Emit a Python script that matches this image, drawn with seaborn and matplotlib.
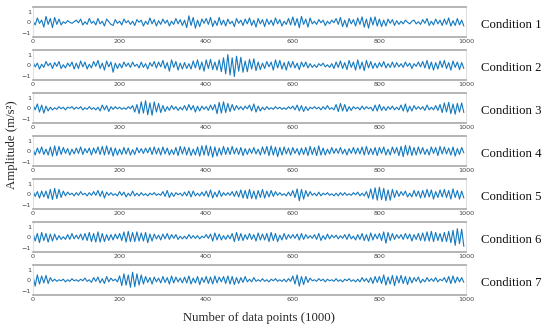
import numpy as np
import seaborn as sns
import matplotlib.pyplot as plt

# vibration signals, one value every 5 data points
cond1 = [0.1,-0.25,0.4,-0.1,0.2,-0.45,0.55,-0.2,0.35,-0.5,
         0.45,-0.2,0.3,-0.25,0.05,-0.1,0.15,0.0,-0.1,0.05,
         0.2,-0.05,0.3,-0.25,0.05,-0.2,0.35,-0.1,0.1,-0.25,
         0.35,-0.15,0.1,-0.35,0.3,0.05,-0.2,-0.3,0.25,-0.1,
         0.1,-0.25,0.3,-0.05,0.15,-0.2,0.1,-0.3,0.25,0.0,
         0.2,-0.35,0.1,-0.2,0.4,-0.15,0.25,-0.35,0.15,-0.2,
         0.3,-0.1,0.2,-0.35,0.1,-0.2,0.35,-0.15,0.25,-0.3,
         0.2,-0.5,0.6,-0.3,0.45,-0.55,0.2,-0.4,0.3,-0.1,
         0.35,-0.2,0.45,-0.4,0.15,-0.3,0.45,-0.25,0.2,-0.35,
         0.3,-0.15,0.1,-0.4,0.35,-0.1,0.2,-0.3,0.3,-0.15,
         0.4,-0.3,0.2,-0.45,0.35,-0.15,0.25,-0.4,0.3,-0.2,
         0.2,-0.3,0.4,-0.15,0.25,-0.35,0.1,-0.2,0.35,-0.25,
         0.5,-0.3,0.35,-0.5,0.55,-0.2,0.3,-0.45,0.4,-0.15,
         0.1,-0.2,0.25,-0.05,0.2,-0.3,0.1,-0.15,0.2,-0.05,
         0.35,-0.2,0.45,-0.4,0.2,-0.45,0.35,-0.15,0.25,-0.35,
         0.4,-0.2,0.5,-0.45,0.3,-0.55,0.45,-0.25,0.5,-0.35,
         0.3,-0.4,0.2,-0.35,0.3,-0.1,0.25,-0.3,0.15,-0.2,
         0.1,-0.15,0.2,0.0,-0.15,0.1,0.2,-0.15,0.05,-0.2,
         0.25,-0.1,0.35,-0.3,0.1,-0.25,0.3,-0.15,0.2,-0.3,
         0.3,-0.2,0.4,-0.35,0.15,-0.3,0.35,-0.25,0.2,-0.35]

cond2 = [0.3,-0.15,0.2,-0.35,0.1,-0.2,0.35,-0.05,0.2,-0.3,
         0.25,-0.1,0.35,-0.3,0.05,-0.25,0.2,-0.1,0.3,-0.35,
         0.2,-0.3,0.4,-0.15,0.3,-0.35,0.1,-0.25,0.35,-0.1,
         0.45,-0.3,0.2,-0.45,0.4,-0.15,0.3,-0.65,0.2,-0.3,
         0.15,-0.25,0.3,-0.1,0.2,-0.2,0.3,-0.1,0.1,-0.25,
         0.3,-0.2,0.15,-0.35,0.25,-0.1,0.35,-0.25,0.3,-0.15,
         0.45,-0.3,0.25,-0.55,0.5,-0.2,0.35,-0.45,0.2,-0.35,
         0.25,-0.3,0.15,-0.35,0.4,-0.25,0.5,-0.4,0.3,-0.55,
         0.5,-0.3,0.55,-0.4,0.3,-0.45,0.5,-0.6,0.7,-0.8,
         1.0,-0.9,0.7,-1.05,0.85,-0.55,0.75,-0.65,0.4,-0.6,
         0.55,-0.35,0.6,-0.5,0.3,-0.4,0.2,-0.3,0.35,-0.15,
         0.3,-0.45,0.5,-0.25,0.45,-0.35,0.25,-0.45,0.35,-0.2,
         0.35,-0.25,0.2,-0.4,0.3,-0.15,0.3,-0.25,0.15,-0.2,
         0.05,-0.2,0.15,-0.05,0.2,-0.15,0.05,-0.2,0.15,-0.3,
         0.3,-0.2,0.4,-0.3,0.25,-0.4,0.45,-0.2,0.3,-0.45,
         0.5,-0.35,0.3,-0.5,0.45,-0.25,0.35,-0.3,0.2,-0.25,
         0.25,-0.15,0.35,-0.25,0.15,-0.2,0.3,-0.2,0.25,-0.15,
         0.15,-0.2,0.3,-0.1,0.2,-0.3,0.15,-0.1,0.3,-0.15,
         0.35,-0.25,0.45,-0.35,0.3,-0.45,0.25,-0.35,0.4,-0.2,
         0.45,-0.3,0.25,-0.45,0.4,-0.2,0.3,-0.4,0.25,-0.3]

cond3 = [0.35,-0.15,0.4,-0.35,0.3,-0.45,0.2,-0.25,0.1,-0.15,
         0.05,-0.1,0.15,-0.05,0.1,-0.15,0.1,0.0,0.15,-0.1,
         0.1,-0.05,0.15,-0.15,0.05,-0.1,0.15,-0.1,0.05,-0.15,
         0.1,-0.25,0.3,-0.15,0.25,-0.3,0.15,-0.1,0.15,-0.05,
         0.1,-0.1,0.05,-0.1,0.15,-0.05,0.25,-0.35,0.35,-0.5,
         0.6,-0.45,0.7,-0.6,0.5,-0.65,0.6,-0.35,0.45,-0.4,
         0.25,-0.3,0.15,-0.2,0.25,-0.1,0.15,-0.2,0.1,-0.15,
         0.25,-0.2,0.35,-0.15,0.25,-0.35,0.2,-0.25,0.2,-0.1,
         0.15,-0.2,0.3,-0.15,0.35,-0.5,0.55,-0.45,0.6,-0.4,
         0.45,-0.3,0.35,-0.2,0.25,-0.1,0.15,-0.15,0.2,-0.05,
         0.3,-0.25,0.4,-0.35,0.2,-0.25,0.1,-0.15,0.15,-0.1,
         0.05,-0.1,0.15,-0.05,0.1,-0.1,0.05,-0.1,0.15,-0.05,
         0.2,-0.15,0.3,-0.25,0.25,-0.3,0.15,-0.2,0.1,-0.05,
         0.15,-0.05,0.1,-0.15,0.15,-0.1,0.25,-0.1,0.05,-0.15,
         0.35,-0.3,0.45,-0.25,0.35,-0.3,0.15,-0.2,0.15,-0.05,
         0.1,-0.15,0.2,-0.1,0.15,-0.05,0.1,-0.25,0.3,-0.25,
         0.35,-0.2,0.15,-0.2,0.15,-0.1,0.2,-0.15,0.1,-0.15,
         0.3,-0.25,0.4,-0.35,0.2,-0.25,0.25,-0.1,0.15,-0.1,
         0.15,-0.2,0.3,-0.15,0.1,-0.15,0.25,-0.2,0.35,-0.4,
         0.5,-0.35,0.55,-0.5,0.4,-0.55,0.45,-0.35,0.5,-0.4]

cond4 = [0.25,-0.35,0.3,-0.2,0.4,-0.3,0.2,-0.35,0.4,-0.45,
         0.5,-0.4,0.45,-0.3,0.35,-0.2,0.25,-0.35,0.2,-0.25,
         0.3,-0.2,0.4,-0.3,0.25,-0.15,0.3,-0.35,0.3,-0.2,
         0.4,-0.3,0.45,-0.35,0.5,-0.3,0.35,-0.45,0.3,-0.35,
         0.2,-0.3,0.35,-0.25,0.3,-0.35,0.15,-0.3,0.35,-0.15,
         0.25,-0.2,0.3,-0.15,0.35,-0.3,0.4,-0.25,0.3,-0.35,
         0.4,-0.25,0.3,-0.35,0.15,-0.3,0.35,-0.4,0.45,-0.25,
         0.4,-0.35,0.35,-0.4,0.2,-0.35,0.4,-0.45,0.5,-0.35,
         0.55,-0.4,0.45,-0.55,0.4,-0.45,0.3,-0.35,0.45,-0.3,
         0.35,-0.3,0.45,-0.25,0.3,-0.3,0.35,-0.4,0.25,-0.3,
         0.25,-0.2,0.35,-0.25,0.2,-0.35,0.4,-0.25,0.45,-0.4,
         0.5,-0.35,0.4,-0.5,0.35,-0.35,0.4,-0.25,0.3,-0.35,
         0.35,-0.2,0.25,-0.35,0.3,-0.3,0.35,-0.4,0.45,-0.3,
         0.35,-0.4,0.5,-0.35,0.3,-0.35,0.2,-0.25,0.35,-0.2,
         0.25,-0.2,0.35,-0.25,0.2,-0.35,0.25,-0.2,0.35,-0.25,
         0.3,-0.25,0.4,-0.35,0.45,-0.3,0.25,-0.3,0.35,-0.4,
         0.35,-0.2,0.4,-0.35,0.2,-0.35,0.4,-0.2,0.35,-0.4,
         0.45,-0.5,0.55,-0.35,0.5,-0.4,0.35,-0.35,0.4,-0.25,
         0.35,-0.3,0.2,-0.35,0.4,-0.2,0.35,-0.4,0.45,-0.25,
         0.4,-0.25,0.3,-0.35,0.4,-0.45,0.25,-0.3,0.35,-0.15]

cond5 = [0.35,-0.2,0.25,-0.35,0.3,-0.25,0.3,-0.4,0.45,-0.5,
         0.55,-0.4,0.45,-0.3,0.3,-0.15,0.2,-0.05,0.1,-0.15,
         0.15,-0.1,0.25,-0.05,0.1,-0.15,0.15,-0.1,0.25,-0.1,
         0.35,-0.2,0.3,-0.35,0.2,-0.1,0.15,-0.1,0.05,-0.15,
         0.25,-0.1,0.2,-0.25,0.1,-0.15,0.3,-0.15,0.1,-0.15,
         0.15,-0.1,0.05,-0.15,0.1,-0.05,0.15,-0.1,0.05,-0.1,
         0.25,-0.2,0.35,-0.3,0.15,-0.2,0.15,-0.05,0.1,-0.15,
         0.2,-0.15,0.3,-0.25,0.3,-0.15,0.1,-0.15,0.2,-0.15,
         0.3,-0.25,0.4,-0.35,0.2,-0.25,0.35,-0.2,0.15,-0.1,
         0.15,-0.1,0.25,-0.2,0.3,-0.25,0.4,-0.35,0.35,-0.4,
         0.45,-0.4,0.3,-0.45,0.35,-0.3,0.45,-0.35,0.3,-0.25,
         0.35,-0.2,0.25,-0.1,0.15,-0.1,0.05,-0.15,0.2,-0.15,
         0.35,-0.3,0.5,-0.6,0.45,-0.45,0.35,-0.2,0.25,-0.1,
         0.1,-0.15,0.2,-0.15,0.1,-0.05,0.15,-0.1,0.05,-0.15,
         0.1,-0.15,0.15,-0.1,0.15,-0.1,0.05,-0.1,0.15,-0.05,
         0.2,-0.15,0.1,-0.15,0.25,-0.35,0.5,-0.45,0.6,-0.55,
         0.65,-0.5,0.55,-0.6,0.4,-0.55,0.45,-0.3,0.35,-0.2,
         0.25,-0.1,0.3,-0.25,0.1,-0.25,0.35,-0.2,0.3,-0.35,
         0.35,-0.3,0.45,-0.25,0.4,-0.45,0.25,-0.3,0.4,-0.25,
         0.45,-0.3,0.35,-0.45,0.5,-0.3,0.35,-0.45,0.3,-0.35]

cond6 = [0.4,-0.35,0.35,-0.5,0.45,-0.3,0.35,-0.45,0.3,-0.35,
         0.3,-0.25,0.15,-0.2,0.05,-0.2,0.25,-0.2,0.35,-0.15,
         0.2,-0.15,0.3,-0.25,0.35,-0.3,0.45,-0.4,0.35,-0.45,
         0.5,-0.45,0.35,-0.4,0.25,-0.3,0.25,-0.25,0.3,-0.15,
         0.35,-0.3,0.5,-0.45,0.55,-0.4,0.45,-0.4,0.5,-0.35,
         0.4,-0.35,0.45,-0.5,0.3,-0.35,0.3,-0.15,0.2,-0.25,
         0.3,-0.15,0.35,-0.2,0.25,-0.1,0.25,-0.2,0.1,-0.15,
         0.1,-0.15,0.25,-0.1,0.15,-0.1,0.15,-0.15,0.1,-0.05,
         0.25,-0.1,0.3,-0.35,0.4,-0.25,0.3,-0.25,0.15,-0.2,
         0.2,-0.15,0.35,-0.4,0.45,-0.3,0.35,-0.3,0.25,-0.2,
         0.35,-0.2,0.25,-0.35,0.4,-0.25,0.3,-0.25,0.35,-0.4,
         0.45,-0.3,0.35,-0.4,0.2,-0.25,0.35,-0.2,0.25,-0.1,
         0.25,-0.1,0.3,-0.25,0.35,-0.2,0.25,-0.1,0.15,-0.1,
         0.25,-0.2,0.35,-0.3,0.15,-0.2,0.3,-0.15,0.2,-0.05,
         0.2,-0.15,0.15,-0.1,0.25,-0.2,0.3,-0.15,0.1,-0.25,
         0.25,-0.2,0.35,-0.3,0.25,-0.35,0.4,-0.25,0.3,-0.15,
         0.35,-0.3,0.5,-0.55,0.45,-0.3,0.35,-0.2,0.25,-0.1,
         0.25,-0.2,0.35,-0.15,0.3,-0.35,0.25,-0.2,0.35,-0.3,
         0.4,-0.35,0.5,-0.35,0.55,-0.4,0.45,-0.3,0.35,-0.4,
         0.45,-0.4,0.55,-0.5,0.65,-0.75,0.8,-0.6,0.75,-0.85]

cond7 = [0.45,-0.55,0.5,-0.35,0.4,-0.25,0.45,-0.3,0.25,-0.1,
         0.1,-0.1,0.05,-0.05,0.1,-0.15,0.05,-0.1,0.15,-0.05,
         0.05,-0.1,0.1,-0.05,0.2,-0.1,0.05,-0.2,0.25,-0.1,
         0.3,-0.25,0.15,-0.3,0.35,-0.15,0.2,-0.05,0.1,-0.15,
         0.4,-0.5,0.6,-0.45,0.5,-0.65,0.75,-0.6,0.6,-0.45,
         0.5,-0.35,0.35,-0.2,0.25,-0.35,0.3,-0.15,0.2,-0.25,
         0.35,-0.2,0.25,-0.35,0.4,-0.25,0.3,-0.15,0.2,-0.25,
         0.3,-0.25,0.4,-0.35,0.2,-0.25,0.35,-0.4,0.25,-0.2,
         0.35,-0.3,0.3,-0.35,0.4,-0.25,0.3,-0.15,0.35,-0.3,
         0.4,-0.35,0.35,-0.4,0.25,-0.3,0.25,-0.2,0.35,-0.15,
         0.1,-0.15,0.25,-0.1,0.05,-0.1,0.15,-0.1,0.05,-0.15,
         0.1,-0.05,0.15,-0.1,0.05,-0.1,0.1,-0.15,0.15,-0.1,
         0.4,-0.35,0.5,-0.55,0.35,-0.4,0.35,-0.2,0.2,-0.05,
         0.05,-0.1,0.15,-0.05,0.1,-0.15,0.1,-0.05,0.05,-0.1,
         0.15,-0.1,0.05,-0.15,0.1,-0.05,0.15,-0.1,0.05,-0.15,
         0.1,-0.15,0.25,-0.1,0.15,-0.2,0.25,-0.3,0.35,-0.2,
         0.35,-0.3,0.5,-0.45,0.3,-0.35,0.45,-0.5,0.4,-0.25,
         0.45,-0.3,0.35,-0.4,0.3,-0.25,0.25,-0.1,0.3,-0.25,
         0.1,-0.15,0.25,-0.1,0.15,-0.1,0.25,-0.15,0.1,-0.05,
         0.25,-0.2,0.35,-0.3,0.4,-0.25,0.3,-0.15,0.25,-0.2]

signals = [cond1, cond2, cond3, cond4, cond5, cond6, cond7]
labels = ["Condition 1", "Condition 2", "Condition 3", "Condition 4",
          "Condition 5", "Condition 6", "Condition 7"]
x_ticks = [0, 200, 400, 600, 800, 1000]
y_ticks = [-1, 0, 1]
step = 5  # one value per 5 data points

sns.set_style("white")
serif = ["Liberation Serif", "DejaVu Serif"]
line_color = "#1479c0"

W, H = 550, 328
fig = plt.figure(figsize=(W / 100, H / 100), dpi=100)

left_px, right_px = 33, 466
top0, panel_h, gap = 6.7, 30.6, 43.0

for i, (sig, lab) in enumerate(zip(signals, labels)):
    top = top0 + gap * i
    ax = fig.add_axes([left_px / W, 1 - (top + panel_h) / H,
                       (right_px - left_px) / W, panel_h / H])
    xs = np.arange(len(sig)) * step
    sns.lineplot(x=xs, y=sig, ax=ax, color=line_color, linewidth=0.8)
    ax.set_xlim(0, 1000)
    ax.set_ylim(-1.4, 1.45)
    ax.set_xticks(x_ticks)
    ax.set_yticks(y_ticks)
    ax.tick_params(axis="both", labelsize=4.6, length=0, pad=1.5,
                   labelcolor="#444444")
    for side in ["top", "bottom"]:
        ax.spines[side].set_color("#a8a8a8")
        ax.spines[side].set_linewidth(1.2)
    for side in ["left", "right"]:
        ax.spines[side].set_color("#e0e0e0")
        ax.spines[side].set_linewidth(0.8)
    ax.set_xlabel("")
    ax.set_ylabel("")
    ax.text(1.034, 0.40, lab, transform=ax.transAxes, ha="left",
            va="center", fontsize=9.2, family=serif, color="#111111")

fig.text(12 / W, 1 - 145 / H, "Amplitude (m/s²)", rotation=90,
         ha="center", va="center", fontsize=9.2, family=serif)
fig.text(259 / W, 1 - 318 / H, "Number of data points (1000)",
         ha="center", va="center", fontsize=9.2, family=serif)

fig.savefig("out.png", dpi=100)
